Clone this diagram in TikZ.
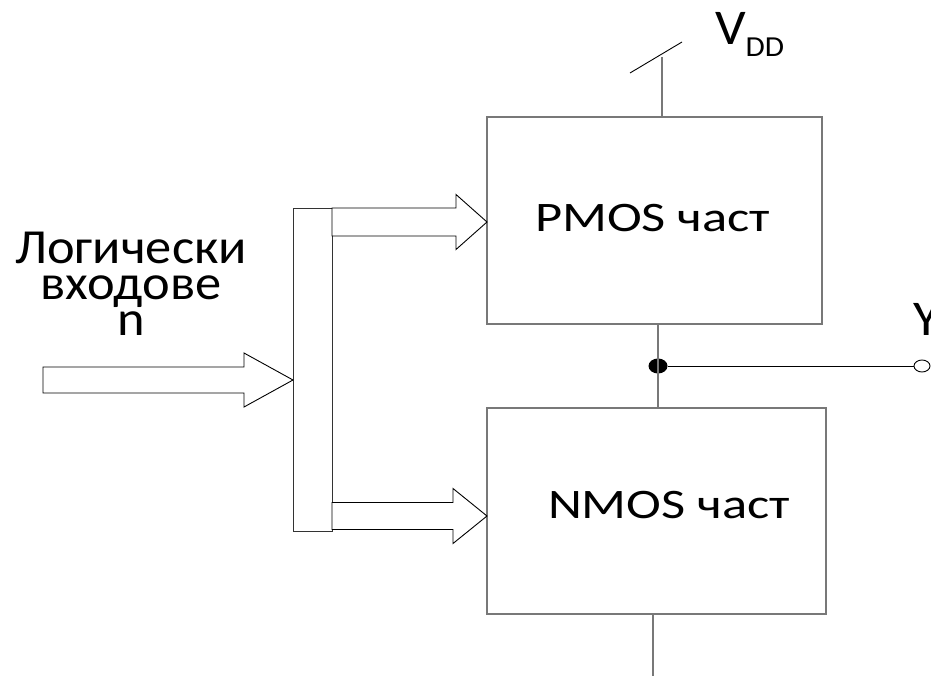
\documentclass[tikz,border=0pt]{standalone}
\usepackage{fontspec}
\setmainfont{Carlito}
\usetikzlibrary{calc,shapes.geometric}
\definecolor{wiregray}{RGB}{120,120,120}
% horizontally widened text
\newcommand\widetext[2]{\scalebox{#1}[1]{#2}}
\tikzset{
  block/.style={draw=wiregray, line width=1.5pt, rectangle, inner sep=0pt, outer sep=0pt, fill=white},
  wire/.style={draw=wiregray, line width=1.5pt},
  signal/.style={draw=black, line width=0.9pt},
  fatline/.style={draw=black, line width=0.9pt, line join=miter, fill=white},
  lbl/.style={inner sep=0pt, outer sep=0pt, font=\fontsize{50}{36}\selectfont},
  inlbl/.style={inner sep=0pt, outer sep=0pt, font=\fontsize{49}{36}\selectfont},
  boxlbl/.style={inner sep=0pt, outer sep=0pt, font=\fontsize{42}{42}\selectfont}
}
% fat arrow: start point, tip point, head length, shaft half width, head half width
\newcommand\fatarrow[5]{%
  \path[fatline] let \p1=(#1), \p2=(#2) in
    (\x1,\y1+#4) -- (\x2-#3,\y1+#4) -- (\x2-#3,\y1+#5) -- (\x2,\y1)
    -- (\x2-#3,\y1-#5) -- (\x2-#3,\y1-#4) -- (\x1,\y1-#4) -- cycle;}
\begin{document}
\begin{tikzpicture}[x=1pt,y=-1pt]
\useasboundingbox (0,0) rectangle (931,676);

% blocks
\node[block, minimum width=335pt, minimum height=207pt] (pmos) at (654.5,220.5) {};
\node[block, minimum width=339pt, minimum height=206pt] (nmos) at (656.5,511) {};
\node[block, draw=black!80, line width=1pt, minimum width=39pt, minimum height=322pt] (bus) at (312.5,370) {};

\node[boxlbl, anchor=base west] (ptext) at (535,232) {\widetext{1.25}{PMOS част}};
\node[boxlbl, anchor=base west] (ntext) at (548,518) {\widetext{1.25}{NMOS част}};

% supply
\coordinate (vddtop) at (662,57);
\coordinate (vddl) at (630,73);
\coordinate (vddr) at (682,42);
\draw[wire] (vddtop) -- (vddtop |- pmos.north);
\draw[signal] (vddl) -- (vddr);
\node[lbl, anchor=base west] (vdd) at (715,45) {\widetext{1.08}{V}\raisebox{-12pt}{\fontsize{29}{29}\selectfont\widetext{1.08}{DD}}};

% output node
\node[ellipse, fill=black, inner sep=0pt, minimum width=19pt, minimum height=15pt] (dot) at (658,366) {};
\node[ellipse, draw=black, fill=white, line width=0.9pt, inner sep=0pt, minimum width=16pt, minimum height=12pt] (out) at (922,366) {};
\draw[wire] (pmos.south -| dot) -- (nmos.north -| dot);
\draw[signal] (dot) -- (out);
\node[lbl, anchor=base west] (ylbl) at (913,335) {\widetext{1.08}{Y}};

% ground side
\coordinate (gnd) at (653,676);
\draw[wire] (nmos.south -| gnd) -- (gnd);

% inputs
\node[inlbl, align=center, anchor=base] (inlbl) at (131,335)
  {\widetext{1.07}{Логически}\\\widetext{1.07}{входове}\\\widetext{1.07}{n}};
\coordinate (inS) at (43,380);
\fatarrow{inS}{bus.west |- inS}{49}{13}{27}
\fatarrow{bus.east |- 0,222}{pmos.west |- 0,222}{31}{14}{27.5}
\fatarrow{bus.east |- 0,516}{nmos.west |- 0,516}{34}{13.5}{27.5}
\end{tikzpicture}
\end{document}
